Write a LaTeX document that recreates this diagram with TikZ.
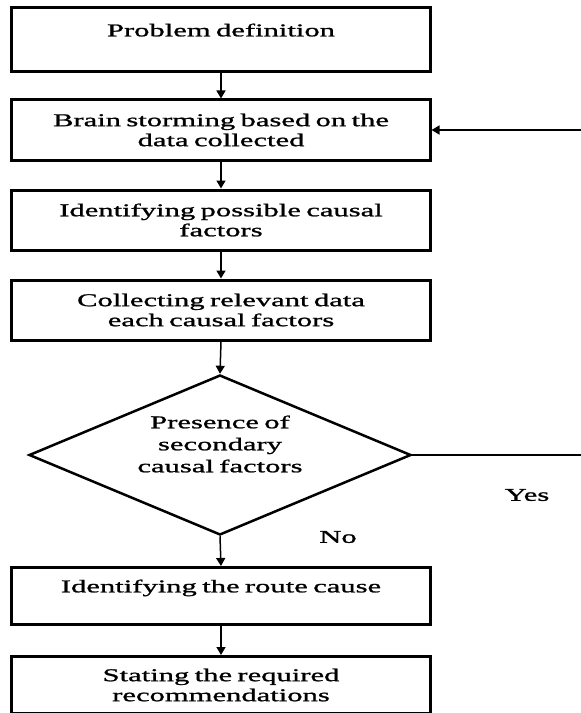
\documentclass[tikz,border=0pt]{standalone}
\usepackage{fontspec}
\setmainfont{Liberation Serif}[FakeStretch=1.7,FakeBold=1.2,WordSpace=0.7]
\usetikzlibrary{arrows.meta,shapes.geometric}
\begin{document}
\begin{tikzpicture}[x=1bp,y=-1bp,
  every node/.style={font=\fontsize{18bp}{20bp}\selectfont},
  stepbox/.style={draw=black,line width=3bp,minimum width=418bp,inner sep=0pt,align=center,fill=white},
  decision/.style={draw=black,line width=2.5bp,diamond,inner sep=0pt,minimum width=382bp,minimum height=160bp},
  conn/.style={draw=black,line width=1.5bp,-{Triangle[width=9bp,length=8bp]}},
  plain/.style={draw=black,line width=1.5bp},
  lbl/.style={inner sep=0pt}]
\useasboundingbox (0,0) rectangle (581,713);
\node[stepbox,minimum height=64bp] (b1) at (221,40) {Problem definition\\[0pt]~};
\node[stepbox,minimum height=60bp] (b2) at (221,130) {Brain storming based on the\\data collected};
\node[stepbox,minimum height=60bp] (b3) at (221,220) {Identifying possible causal\\factors};
\node[stepbox,minimum height=60bp] (b4) at (221,310) {Collecting relevant data\\each causal factors};
\node[decision] (d) at (220,455) {};
\node[lbl,align=center,font=\fontsize{18bp}{22bp}\selectfont] (dt) at (220,444) {Presence of\\secondary\\causal factors};
\node[stepbox,minimum height=57bp] (b5) at (221,596) {Identifying the route cause\\~};
\node[stepbox,minimum height=57bp] (b6) at (221,685) {Stating the required\\recommendations};
\node[lbl] (yes) at (527,495) {Yes};
\node[lbl] (no) at (338,537) {No};
\coordinate (fb) at (583,130);
\coordinate (yr) at (583,455);
\draw[conn] (b1.south) -- (b2.north);
\draw[conn] (b2.south) -- (b3.north);
\draw[conn] (b3.south) -- (b4.north);
\draw[conn] (b4.south) -- (d.north);
\draw[conn] (d.south) -- (b5.north);
\draw[conn] (b5.south) -- (b6.north);
\draw[plain] (d.east) -- (yr);
\draw[conn] (fb) -- (b2.east);
\end{tikzpicture}
\end{document}
